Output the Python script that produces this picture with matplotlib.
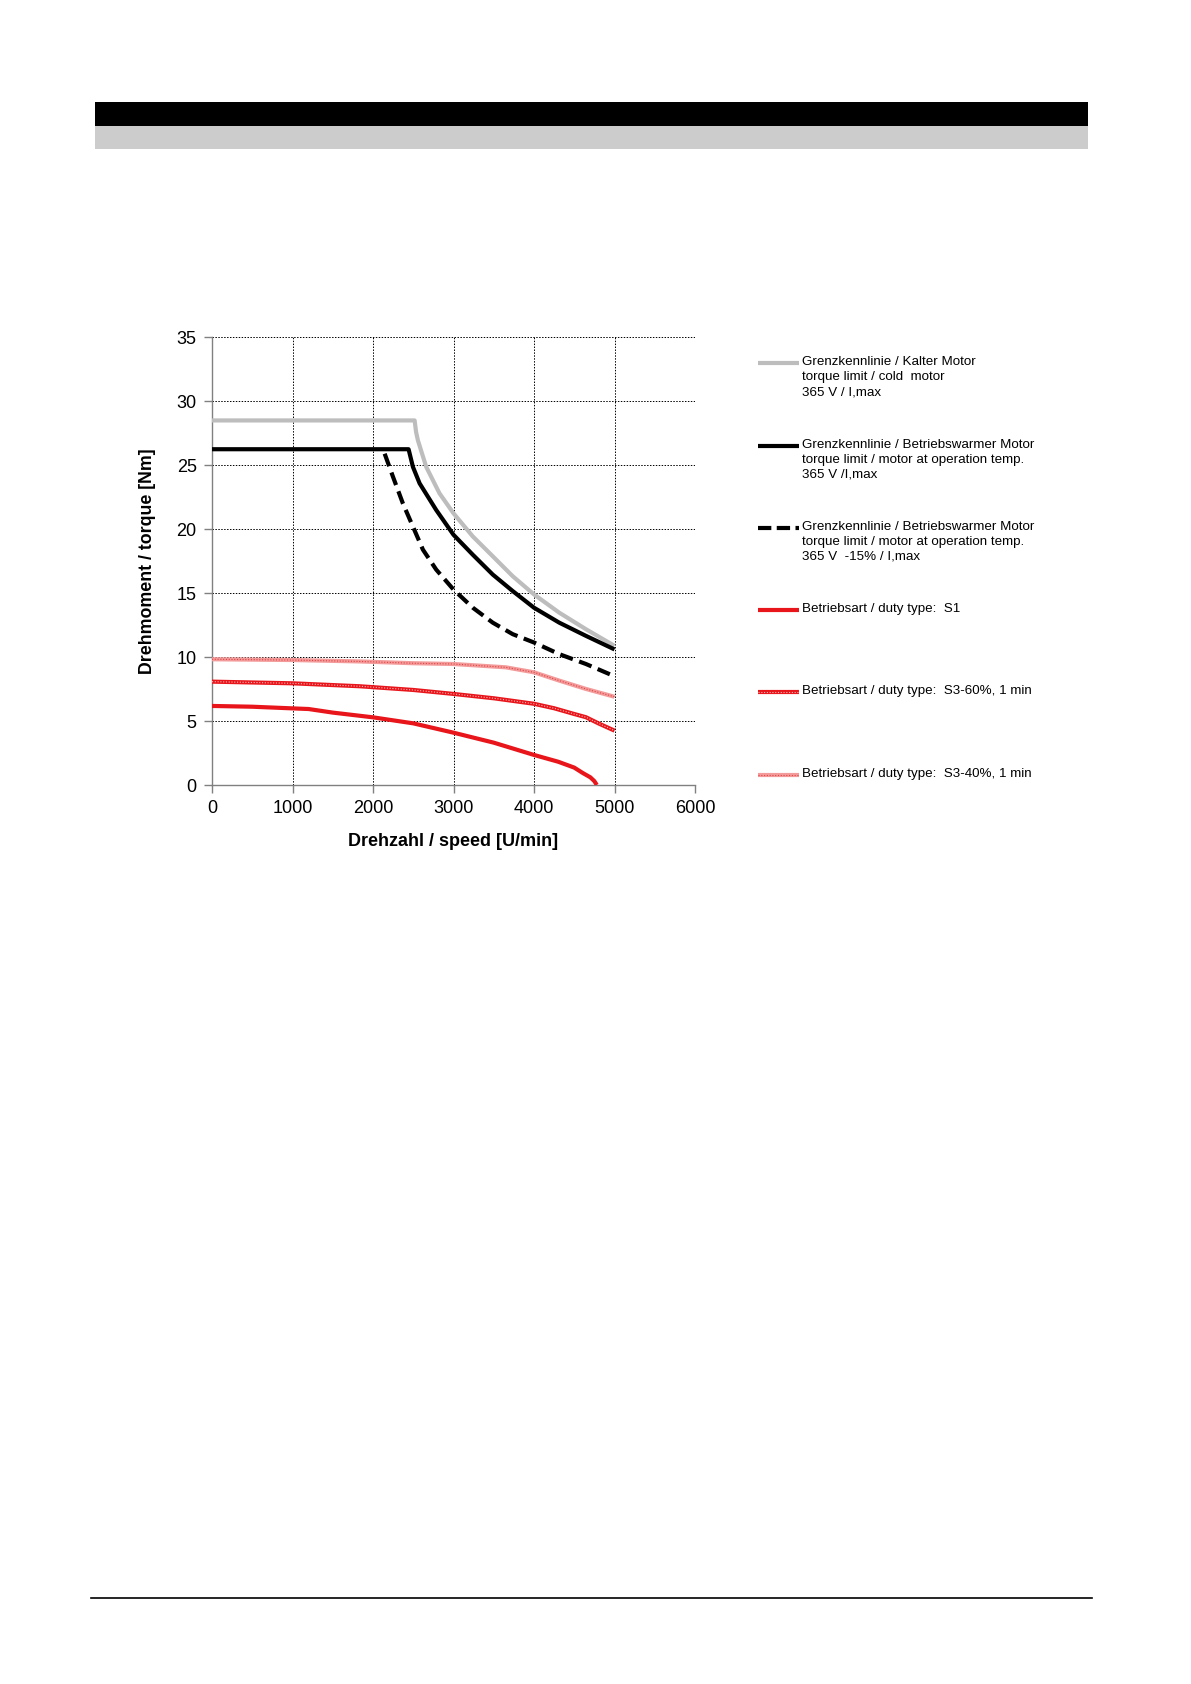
import matplotlib
matplotlib.use("Agg")
import matplotlib.pyplot as plt
from matplotlib.lines import Line2D
from matplotlib.patches import Rectangle

plt.rcParams['font.family'] = ['Liberation Sans', 'DejaVu Sans']

# ---- data (speed in U/min, torque in Nm) ----
cold_x = [0, 2517, 2535, 2558, 2661, 2826, 3000, 3240, 3488, 3736, 4000, 4314, 4645, 5000]
cold_y = [28.5, 28.5, 27.6, 26.94, 24.87, 22.8, 21.24, 19.43, 17.88, 16.32, 14.9, 13.47, 12.18, 10.88]

warm_x = [0, 2442, 2496, 2579, 2785, 3000, 3240, 3488, 3736, 4000, 4314, 4645, 5000]
warm_y = [26.25, 26.25, 24.87, 23.58, 21.5, 19.56, 18.0, 16.45, 15.16, 13.86, 12.69, 11.66, 10.6]

warm15_x = [2145, 2248, 2372, 2496, 2620, 2785, 3000, 3240, 3488, 3736, 4000, 4314, 4645, 5000]
warm15_y = [25.9, 24.1, 22.0, 20.2, 18.4, 16.84, 15.28, 13.86, 12.69, 11.79, 11.14, 10.23, 9.46, 8.5]

s1_x = [0, 500, 1000, 1200, 1500, 2000, 2500, 3000, 3500, 4000, 4300, 4500, 4600, 4700, 4750, 4780]
s1_y = [6.18, 6.12, 5.99, 5.94, 5.66, 5.29, 4.82, 4.09, 3.31, 2.35, 1.82, 1.36, 0.96, 0.6, 0.3, 0.0]

s360_x = [0, 1000, 1835, 2500, 3000, 3500, 4000, 4250, 4500, 4645, 4800, 5000]
s360_y = [8.08, 7.95, 7.72, 7.43, 7.12, 6.78, 6.35, 6.0, 5.55, 5.3, 4.82, 4.25]

s340_x = [0, 1000, 1835, 2500, 3000, 3650, 4000, 4314, 4645, 5000]
s340_y = [9.83, 9.77, 9.66, 9.52, 9.46, 9.2, 8.81, 8.16, 7.51, 6.9]

x_ticks = [0, 1000, 2000, 3000, 4000, 5000, 6000]
y_ticks = [0, 5, 10, 15, 20, 25, 30, 35]

legend_labels = [
    "Grenzkennlinie / Kalter Motor\ntorque limit / cold  motor\n365 V / I,max",
    "Grenzkennlinie / Betriebswarmer Motor\ntorque limit / motor at operation temp.\n365 V /I,max",
    "Grenzkennlinie / Betriebswarmer Motor\ntorque limit / motor at operation temp.\n365 V  -15% / I,max",
    "Betriebsart / duty type:  S1",
    "Betriebsart / duty type:  S3-60%, 1 min",
    "Betriebsart / duty type:  S3-40%, 1 min",
]

W, H = 1191, 1684
fig = plt.figure(figsize=(W / 100, H / 100), dpi=100)

# header bars and footer line
fig.add_artist(Rectangle((95 / W, 1 - 126 / H), 993 / W, 24 / H, transform=fig.transFigure,
                         facecolor='black', edgecolor='none'))
fig.add_artist(Rectangle((95 / W, 1 - 149 / H), 993 / W, 23 / H, transform=fig.transFigure,
                         facecolor='#cccccc', edgecolor='none'))
fig.add_artist(Line2D([91 / W, 1092 / W], [1 - 1598.3 / H] * 2, transform=fig.transFigure,
                      color='black', lw=1.2))

ax = fig.add_axes([212 / W, 1 - 785 / H, 483 / W, 447.7 / H])

RED = '#e8151b'
PINK = '#f39a9a'
LW = 3.0

ax.plot(cold_x, cold_y, color='#bdbdbd', lw=LW, solid_capstyle='butt', zorder=5)
ax.plot(warm_x, warm_y, color='black', lw=LW, solid_capstyle='butt', zorder=6)
ax.plot(warm15_x, warm15_y, color='black', lw=LW, dashes=(3.2, 1.6), zorder=6)
ax.plot(s1_x, s1_y, color=RED, lw=LW, solid_capstyle='butt', zorder=5)
# hatched-looking lines
ax.plot(s360_x, s360_y, color=RED, lw=LW, solid_capstyle='butt', zorder=5)
ax.plot(s360_x, s360_y, color='#f7b5b5', lw=0.8, dashes=(1, 1.5), zorder=5)
ax.plot(s340_x, s340_y, color=PINK, lw=LW, solid_capstyle='butt', zorder=5)
ax.plot(s340_x, s340_y, color='#e04545', lw=0.8, dashes=(1, 1.5), zorder=5)

ax.set_xlim(0, 6000)
ax.set_ylim(0, 35)
ax.set_xticks(x_ticks)
ax.set_yticks(y_ticks)
ax.tick_params(axis='both', labelsize=13, direction='out', length=6, width=1,
               color='#808080', pad=5)
ax.grid(True, color='black', lw=0.7, ls=(0, (1.5, 1.5)), zorder=1)
for s in ['top', 'right']:
    ax.spines[s].set_visible(False)
for s in ['left', 'bottom']:
    ax.spines[s].set_color('#808080')
    ax.spines[s].set_linewidth(1.0)

ax.set_xlabel("Drehzahl / speed [U/min]", fontsize=13, fontweight='bold', labelpad=11)
ax.set_ylabel("Drehmoment / torque [Nm]", fontsize=12.8, fontweight='bold', labelpad=15)

# manual legend
styles = [
    dict(color='#bdbdbd'), dict(color='black'), dict(color='black', dashes=(3.2, 1.3)),
    dict(color=RED), dict(color=RED), dict(color=PINK),
]
ys = [363.3, 445.7, 527.7, 610, 692.3, 775]
for i, (lab, st, yy) in enumerate(zip(legend_labels, styles, ys)):
    yf = 1 - yy / H
    fig.add_artist(Line2D([758 / W, 799 / W], [yf, yf], transform=fig.transFigure,
                          lw=LW, solid_capstyle='butt', **st))
    if i == 4:
        fig.add_artist(Line2D([758 / W, 799 / W], [yf, yf], transform=fig.transFigure,
                              lw=0.8, color='#f7b5b5', dashes=(1, 1.5)))
    if i == 5:
        fig.add_artist(Line2D([758 / W, 799 / W], [yf, yf], transform=fig.transFigure,
                              lw=0.8, color='#e04545', dashes=(1, 1.5)))
    fig.text(802 / W, yf + 7 / H, lab, fontsize=9.65, va='top', ha='left',
             linespacing=1.34)

fig.savefig("out.png", dpi=100)
